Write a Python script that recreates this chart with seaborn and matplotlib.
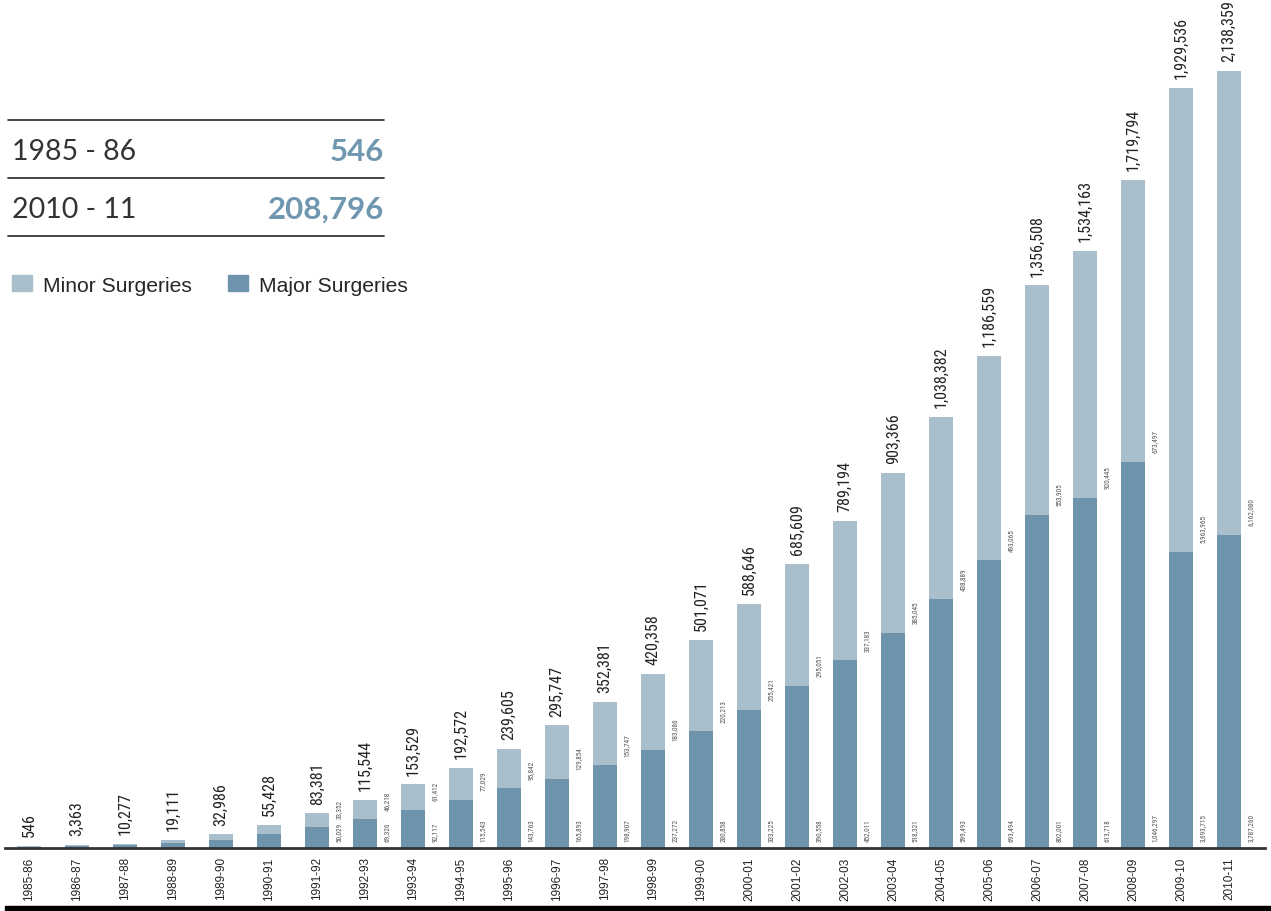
import pandas as pd
import seaborn as sns
import matplotlib.pyplot as plt
from matplotlib import font_manager
from matplotlib.lines import Line2D
from matplotlib.patches import Patch, Rectangle

sns.set_theme(style="white")
plt.rcParams["font.family"] = ["Liberation Sans", "DejaVu Sans"]

years = ['1985-86', '1986-87', '1987-88', '1988-89', '1989-90', '1990-91', '1991-92',
         '1992-93', '1993-94', '1994-95', '1995-96', '1996-97', '1997-98', '1998-99',
         '1999-00', '2000-01', '2001-02', '2002-03', '2003-04', '2004-05', '2005-06',
         '2006-07', '2007-08', '2008-09', '2009-10', '2010-11']

# bar segments as drawn in the picture
major = [3600, 5000, 7000, 12800, 20000, 34500, 50029, 69326, 92117, 115543, 143763,
         165893, 198907, 237272, 280858, 333225, 390558, 452011, 518321, 599493,
         693494, 802001, 843500, 930300, 713400, 754300]
minor = [1800, 2200, 3277, 6311, 12986, 20928, 33352, 46218, 61412, 77029, 95842,
         129854, 153474, 183086, 220213, 255421, 295051, 337183, 385045, 438889,
         493065, 553905, 595300, 679600, 1118200, 1119000]

# printed labels
total_text = ['546', '3,363', '10,277', '19,111', '32,986', '55,428', '83,381', '115,544',
              '153,529', '192,572', '239,605', '295,747', '352,381', '420,358', '501,071',
              '588,646', '685,609', '789,194', '903,366', '1,038,382', '1,186,559',
              '1,356,508', '1,534,163', '1,719,794', '1,929,536', '2,138,359']
major_text = ['', '', '', '', '', '', '50,029', '69,326', '92,117', '115,543', '143,763',
              '165,893', '198,907', '237,272', '280,858', '333,225', '390,558', '452,011',
              '518,321', '599,493', '693,494', '802,001', '613,718', '1,046,297',
              '3,693,715', '3,787,260']
minor_text = ['', '', '', '', '', '', '33,352', '46,218', '61,412', '77,029', '95,842',
              '129,854', '153,747', '183,086', '220,213', '255,421', '295,051', '337,183',
              '385,045', '438,889', '493,065', '553,905', '920,445', '673,497',
              '5,963,965', '6,162,080']

header_rows = ['1985 - 86', '2010 - 11']
header_vals = ['546', '208,796']

LIGHT = "#a9bfcc"
DARK = "#6e94ad"

# a narrow face for the bar labels, if one is installed
narrow_file = None
for f in font_manager.fontManager.ttflist:
    fn = f.fname.lower()
    if ("narrow" in fn or "condensed" in fn) and "bold" not in fn and "oblique" not in fn \
            and "italic" not in fn:
        narrow_file = f.fname
        if "liberation" in fn:
            break
if narrow_file:
    big_fp = font_manager.FontProperties(fname=narrow_file, size=11.6)
    small_fp = font_manager.FontProperties(fname=narrow_file, size=5.2)
else:
    big_fp = font_manager.FontProperties(family="Liberation Sans", size=9.8)
    small_fp = font_manager.FontProperties(family="Liberation Sans", size=4.8)

names = {f.name for f in font_manager.fontManager.ttflist}
head_font = "Lato" if "Lato" in names else "DejaVu Sans"

df = pd.DataFrame({"year": years, "major": major, "minor": minor})
df["total"] = df["major"] + df["minor"]

W, H = 1271, 912
fig = plt.figure(figsize=(W / 100, H / 100), dpi=100)
ax = fig.add_axes([5 / W, 63 / H, 1260 / W, 849 / H])

sns.barplot(data=df, x="year", y="total", color=LIGHT, width=0.48, ax=ax,
            saturation=1, linewidth=0)
sns.barplot(data=df, x="year", y="major", color=DARK, width=0.48, ax=ax,
            saturation=1, linewidth=0)

ax.set_xlim(-0.5, 25.75)
ax.set_ylim(0, 849 * 2410)
ax.set(xlabel="", ylabel="", yticks=[])
for s in ["top", "right", "left"]:
    ax.spines[s].set_visible(False)
ax.spines["bottom"].set_color("#333333")
ax.spines["bottom"].set_linewidth(2)
ax.tick_params(axis="x", length=0, pad=6, labelsize=8.5, labelcolor="#222222",
               rotation=90)

for i, row in df.iterrows():
    ax.annotate(total_text[i], (i, row["total"]), xytext=(0, 7), textcoords="offset points",
                rotation=90, ha="center", va="bottom", fontproperties=big_fp,
                color="#222222", annotation_clip=False)
    if major_text[i]:
        ax.annotate(major_text[i], (i, 0), xytext=(16, 5), textcoords="offset points",
                    rotation=90, ha="center", va="bottom", fontproperties=small_fp,
                    color="#555555")
        ax.annotate(minor_text[i], (i, row["major"]), xytext=(16, 7),
                    textcoords="offset points", rotation=90, ha="center", va="bottom",
                    fontproperties=small_fp, color="#555555")

# header table
for y in [121, 179, 237]:
    fig.add_artist(Line2D([8 / W, 384 / W], [1 - y / H, 1 - y / H], color="#222222",
                          lw=1.2, transform=fig.transFigure))
for y, lab, val in zip([152, 210], header_rows, header_vals):
    fig.text(12 / W, 1 - y / H, lab, fontsize=20.5, family=head_font, weight="normal",
             color="#333333", va="center", ha="left")
    fig.text(384 / W, 1 - y / H, val, fontsize=22.5, family=head_font, weight="bold",
             color="#7097b0", va="center", ha="right")

handles = [Patch(color=LIGHT), Patch(color=DARK)]
fig.legend(handles, ["Minor Surgeries", "Major Surgeries"], loc="center left",
           bbox_to_anchor=(12 / W, 1 - 286 / H), ncol=2, frameon=False, fontsize=15.2,
           handlelength=0.95, handleheight=0.75, handletextpad=0.5, columnspacing=1.75,
           borderpad=0, borderaxespad=0)

fig.add_artist(Rectangle((5 / W, 0), 1, 5 / H, color="black", transform=fig.transFigure))

plt.savefig("out.png", dpi=100)
